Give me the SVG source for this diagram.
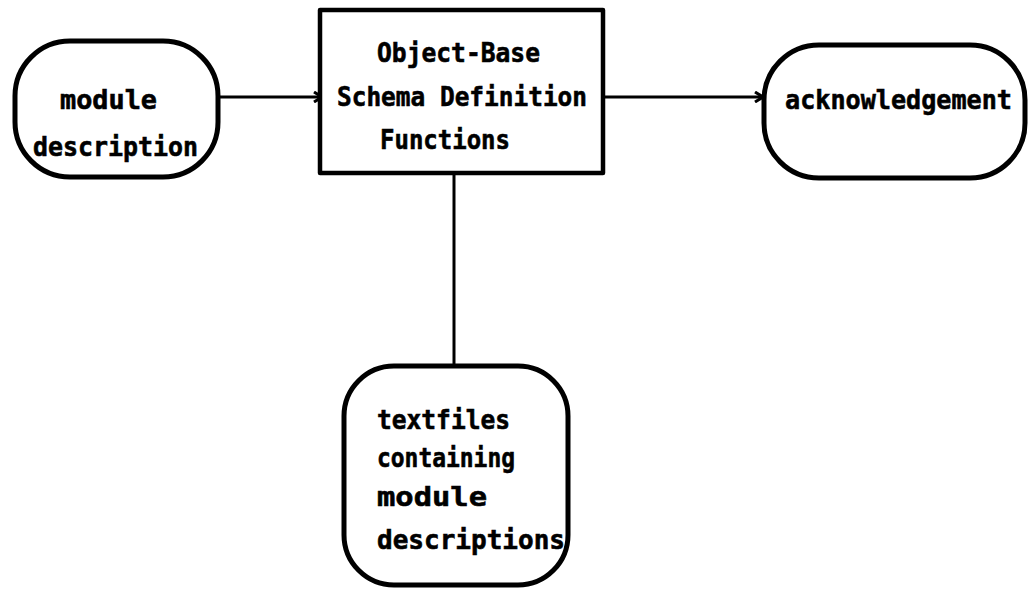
<svg xmlns="http://www.w3.org/2000/svg" width="1029" height="590" viewBox="0 0 1029 590">
  <style>
    .box { fill: #fff; stroke: #000; stroke-width: 4.5; stroke-linejoin: round; }
    .term { fill: #fff; stroke: #000; stroke-width: 5; }
    .wire { fill: none; stroke: #000; stroke-width: 3; }
    .lbl { font-family: "DejaVu Sans Mono", "Liberation Mono", monospace; font-weight: bold; font-size: 27px; fill: #000; stroke: #000; stroke-width: 0.6; }
  </style>
  <defs>
    <marker id="barb" viewBox="0 0 12 12" refX="11" refY="6" markerWidth="12" markerHeight="12" markerUnits="userSpaceOnUse" orient="auto">
      <path d="M3,1 L11,6 L3,11" fill="none" stroke="#000" stroke-width="3" stroke-linejoin="miter"/>
    </marker>
  </defs>

  <g id="connectors">
    <line class="wire" x1="218" y1="97" x2="322" y2="97" marker-end="url(#barb)"/>
    <line class="wire" x1="603" y1="97" x2="763" y2="97" marker-end="url(#barb)"/>
    <line class="wire" x1="454" y1="173" x2="454" y2="366"/>
  </g>

  <g id="module-description">
    <rect class="term" x="15" y="41" width="203" height="136" rx="55" ry="55"/>
    <text class="lbl" x="60" y="109" textLength="97" lengthAdjust="spacingAndGlyphs">module</text>
    <text class="lbl" x="33" y="156" textLength="165" lengthAdjust="spacingAndGlyphs">description</text>
  </g>

  <g id="schema-functions">
    <rect class="box" x="320" y="10" width="283" height="163"/>
    <text class="lbl" x="377" y="62" textLength="163" lengthAdjust="spacingAndGlyphs">Object-Base</text>
    <text class="lbl" x="337" y="106" textLength="250" lengthAdjust="spacingAndGlyphs">Schema Definition</text>
    <text class="lbl" x="380" y="149" textLength="130" lengthAdjust="spacingAndGlyphs">Functions</text>
  </g>

  <g id="acknowledgement">
    <rect class="term" x="764" y="45" width="261" height="133" rx="55" ry="55"/>
    <text class="lbl" x="785" y="109" textLength="227" lengthAdjust="spacingAndGlyphs">acknowledgement</text>
  </g>

  <g id="textfiles">
    <rect class="term" x="344" y="366" width="224" height="219" rx="50" ry="50"/>
    <text class="lbl" x="377" y="429" textLength="133" lengthAdjust="spacingAndGlyphs">textfiles</text>
    <text class="lbl" x="377" y="467" textLength="138" lengthAdjust="spacingAndGlyphs">containing</text>
    <text class="lbl" x="377" y="506" textLength="110" lengthAdjust="spacingAndGlyphs">module</text>
    <text class="lbl" x="377" y="549" textLength="188" lengthAdjust="spacingAndGlyphs">descriptions</text>
  </g>
</svg>
